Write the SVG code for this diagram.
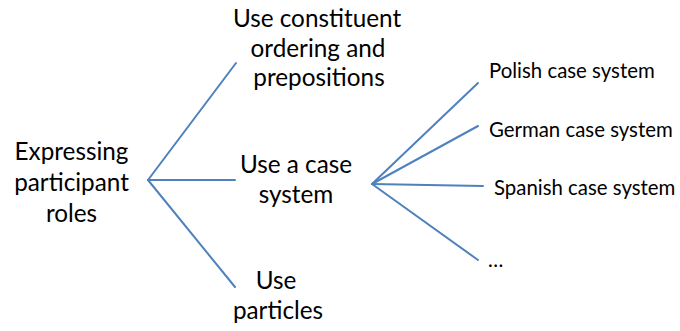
<svg xmlns="http://www.w3.org/2000/svg" width="680" height="331" viewBox="0 0 680 331">
<style>
.big{font-family:Lato,"Liberation Sans",sans-serif;font-size:24.3px;fill:#000;text-anchor:middle}
.small{font-family:Lato,"Liberation Sans",sans-serif;font-size:20.4px;fill:#000}
.edge{stroke:#4f81bd;stroke-width:2;fill:none;stroke-linecap:round}
</style>
<rect width="680" height="331" fill="#fff"/>
<g id="connectors">
<line class="edge" x1="148" y1="180" x2="236" y2="63"/>
<line class="edge" x1="148" y1="180" x2="235" y2="180"/>
<line class="edge" x1="148" y1="180" x2="235" y2="287"/>
<line class="edge" x1="372" y1="184" x2="478" y2="83"/>
<line class="edge" x1="372" y1="184" x2="478" y2="126"/>
<line class="edge" x1="372" y1="184" x2="483" y2="186"/>
<line class="edge" x1="372" y1="184" x2="478" y2="260"/>
</g>
<g id="root">
<text class="big" x="71.5" y="160">Expressing</text>
<text class="big" x="71.5" y="191">participant</text>
<text class="big" x="71.5" y="222">roles</text>
</g>
<g id="ordering">
<text class="big" x="317" y="27">Use constituent</text>
<text class="big" x="318" y="57">ordering and</text>
<text class="big" x="319" y="86">prepositions</text>
</g>
<g id="case">
<text class="big" x="296" y="173">Use a case</text>
<text class="big" x="296" y="203">system</text>
</g>
<g id="particles">
<text class="big" x="276" y="289">Use</text>
<text class="big" x="278" y="319">particles</text>
</g>
<g id="polish"><text class="small" x="489" y="78">Polish case system</text></g>
<g id="german"><text class="small" x="489" y="137">German case system</text></g>
<g id="spanish"><text class="small" x="494" y="195">Spanish case system</text></g>
<g id="more"><text class="small" x="488" y="267">…</text></g>
</svg>
